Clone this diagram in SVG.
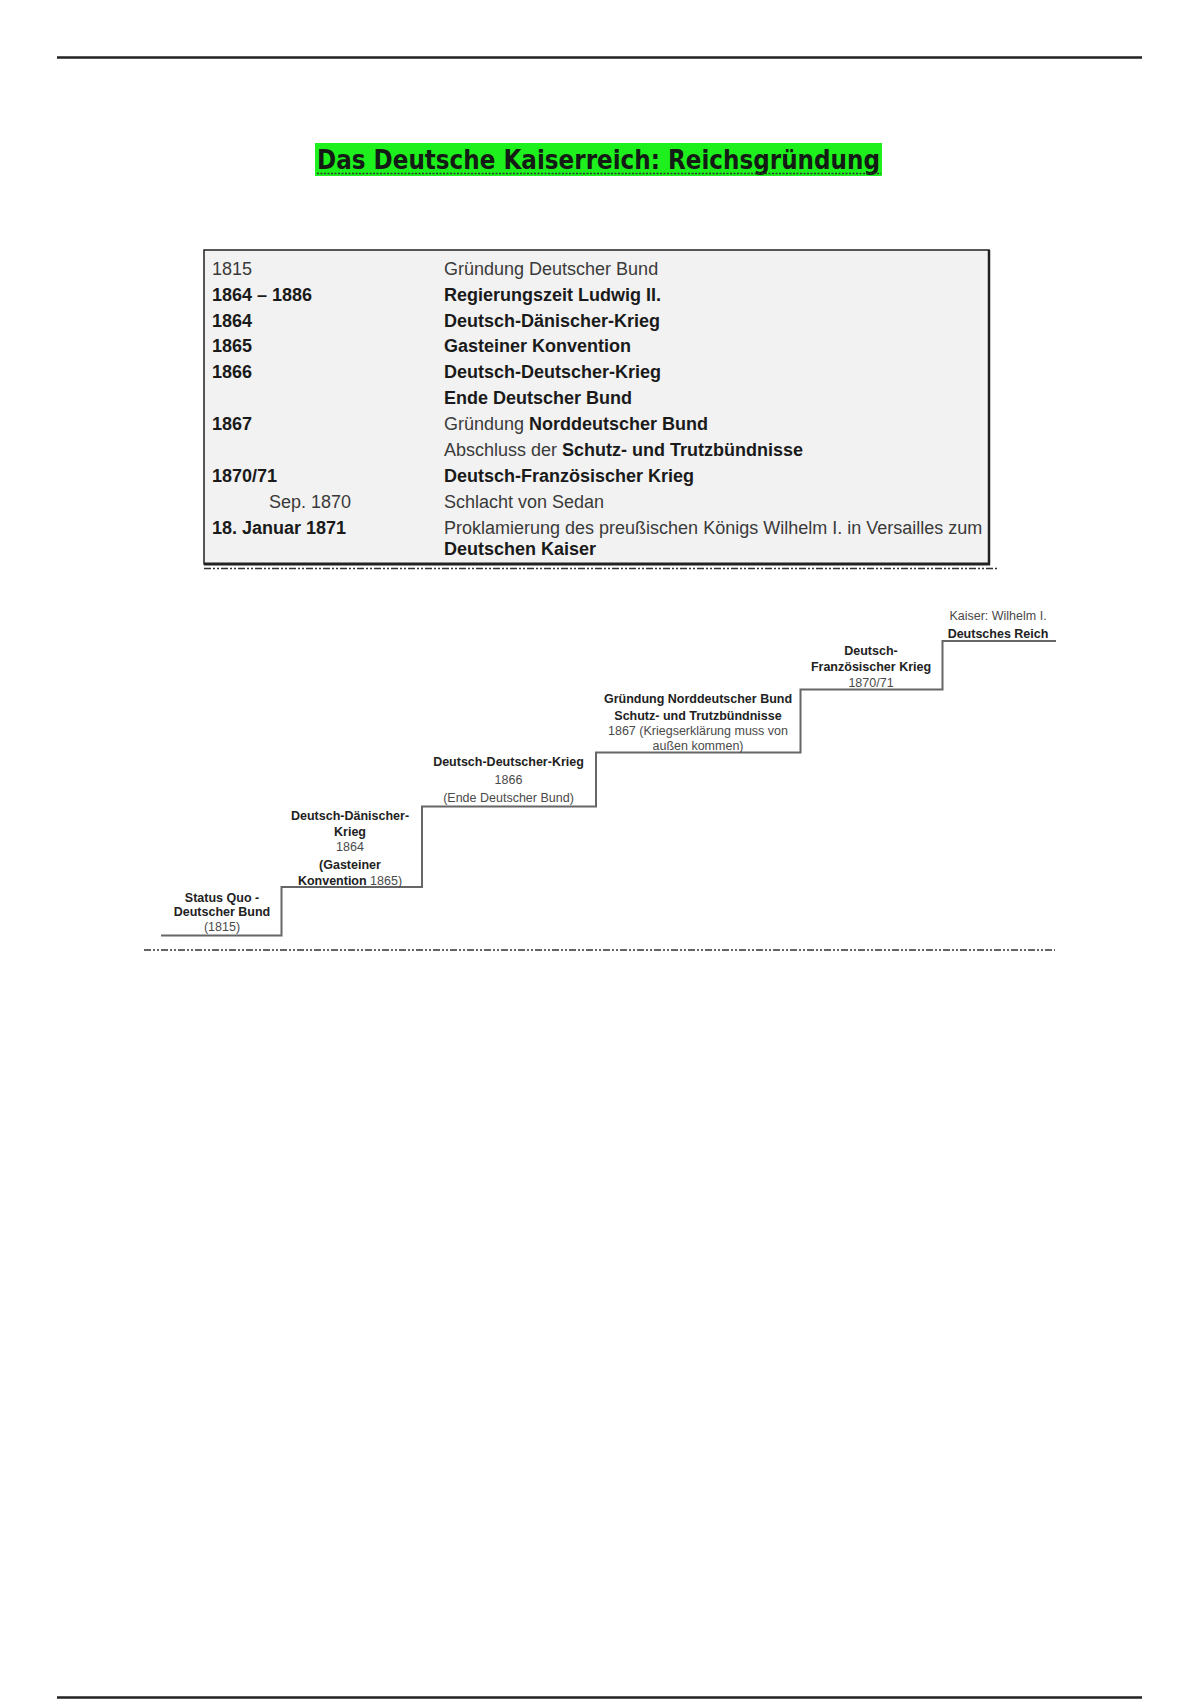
<svg xmlns="http://www.w3.org/2000/svg" width="1200" height="1700" viewBox="0 0 1200 1700">
<style>
.t{font-family:"Liberation Sans",Arial,sans-serif;font-size:18px;fill:#3a3a3a}
.b{font-weight:bold;fill:#1a1a1a}
.s{font-family:"Liberation Sans",Arial,sans-serif;font-size:12.5px;fill:#4a4a4a;text-anchor:middle}
.sb{font-weight:bold;fill:#222}
.rule{stroke:#222;stroke-width:2.5}
.dash{stroke:#333;stroke-width:1.5;stroke-dasharray:7 2 2 2 2 2;fill:none}
.stair{stroke:#666;stroke-width:2;fill:none}
</style>
<rect width="1200" height="1700" fill="#fff"/>
<line class="rule" x1="57" y1="57.5" x2="1142" y2="57.5"/>
<line class="rule" x1="57" y1="1697.5" x2="1142" y2="1697.5"/>

<g id="title">
<rect x="315" y="143" width="567" height="33" fill="#1ef01e"/>
<text x="317" y="169" font-family="'DejaVu Sans Condensed','DejaVu Sans',sans-serif" font-stretch="condensed" font-weight="bold" font-size="27" fill="#141a14" textLength="563" lengthAdjust="spacingAndGlyphs">Das Deutsche Kaiserreich: Reichsgründung</text>
<line x1="317" y1="173.5" x2="881" y2="173.5" stroke="#333" stroke-width="1.5" stroke-dasharray="2 1.5"/>
</g>

<g id="timeline-table">
<rect x="204" y="250" width="785" height="314" fill="#f2f2f2" stroke="#222" stroke-width="1.5"/>
<line x1="989" y1="250" x2="989" y2="565" stroke="#222" stroke-width="2.5"/>
<line x1="204" y1="564" x2="990" y2="564" stroke="#222" stroke-width="3"/>
<text class="t" x="212" y="275">1815</text>
<text class="t" x="444" y="275">Gründung Deutscher Bund</text>
<text class="t b" x="212" y="301">1864 – 1886</text>
<text class="t b" x="444" y="301">Regierungszeit Ludwig II.</text>
<text class="t b" x="212" y="326.5">1864</text>
<text class="t b" x="444" y="326.5">Deutsch-Dänischer-Krieg</text>
<text class="t b" x="212" y="352">1865</text>
<text class="t b" x="444" y="352">Gasteiner Konvention</text>
<text class="t b" x="212" y="378">1866</text>
<text class="t b" x="444" y="378">Deutsch-Deutscher-Krieg</text>
<text class="t b" x="444" y="404">Ende Deutscher Bund</text>
<text class="t b" x="212" y="429.5">1867</text>
<text class="t" x="444" y="429.5">Gründung <tspan class="b">Norddeutscher Bund</tspan></text>
<text class="t" x="444" y="455.5">Abschluss der <tspan class="b">Schutz- und Trutzbündnisse</tspan></text>
<text class="t b" x="212" y="481.5">1870/71</text>
<text class="t b" x="444" y="481.5">Deutsch-Französischer Krieg</text>
<text class="t" x="269" y="507.5">Sep. 1870</text>
<text class="t" x="444" y="507.5">Schlacht von Sedan</text>
<text class="t b" x="212" y="533.5">18. Januar 1871</text>
<text class="t" x="444" y="533.5">Proklamierung des preußischen Königs Wilhelm I. in Versailles zum</text>
<text class="t b" x="444" y="554.5">Deutschen Kaiser</text>
</g>
<line class="dash" x1="204" y1="568.5" x2="997" y2="568.5"/>

<g id="stairs">
<path class="stair" d="M161 935.5 H281.5 V887 H422 V806.5 H596 V752.5 H800.5 V689.5 H942.5 V641 H1056"/>
</g>

<g id="step-1815">
<text class="s sb" x="222" y="901.5">Status Quo -</text>
<text class="s sb" x="222" y="915.5">Deutscher Bund</text>
<text class="s" x="222" y="930.5">(1815)</text>
</g>
<g id="step-1864">
<text class="s sb" x="350" y="819.5">Deutsch-Dänischer-</text>
<text class="s sb" x="350" y="835.5">Krieg</text>
<text class="s" x="350" y="851">1864</text>
<text class="s sb" x="350" y="869">(Gasteiner</text>
<text class="s" x="350" y="884.5"><tspan class="sb">Konvention</tspan> 1865)</text>
</g>
<g id="step-1866">
<text class="s sb" x="508.5" y="766">Deutsch-Deutscher-Krieg</text>
<text class="s" x="508.5" y="783.5">1866</text>
<text class="s" x="508.5" y="801.5">(Ende Deutscher Bund)</text>
</g>
<g id="step-1867">
<text class="s sb" x="698" y="702.5">Gründung Norddeutscher Bund</text>
<text class="s sb" x="698" y="719.5">Schutz- und Trutzbündnisse</text>
<text class="s" x="698" y="735">1867 (Kriegserklärung muss von</text>
<text class="s" x="698" y="749.5">außen kommen)</text>
</g>
<g id="step-1870">
<text class="s sb" x="871" y="654.5">Deutsch-</text>
<text class="s sb" x="871" y="670.5">Französischer Krieg</text>
<text class="s" x="871" y="686.5">1870/71</text>
</g>
<g id="step-1871">
<text class="s" x="998" y="620" fill="#666">Kaiser: Wilhelm I.</text>
<text class="s sb" x="998" y="637.5">Deutsches Reich</text>
</g>
<line class="dash" x1="144" y1="950" x2="1055" y2="950"/>
</svg>
